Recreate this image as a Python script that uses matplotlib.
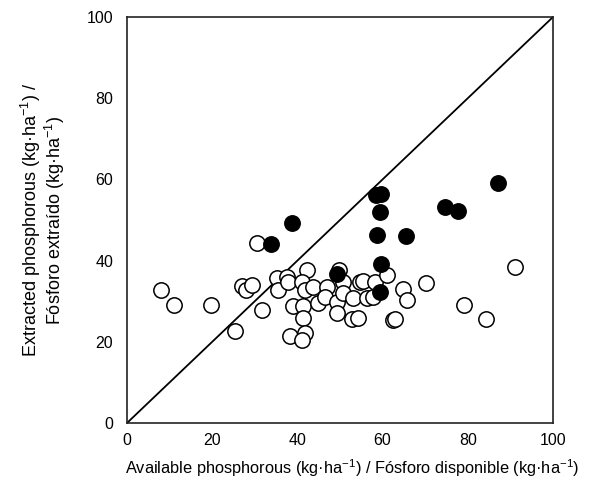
import matplotlib
matplotlib.use("Agg")
import matplotlib.pyplot as plt

plt.rcParams['font.family'] = ['Liberation Sans Narrow', 'Liberation Sans', 'DejaVu Sans']
plt.rcParams['mathtext.fontset'] = 'custom'
plt.rcParams['mathtext.rm'] = 'Liberation Sans'

open_x = [8.0, 11.0, 19.7, 25.4, 26.9, 27.9, 29.3, 31.6, 30.5, 35.3, 37.5, 35.4, 37.7,
          42.2, 41.0, 41.8, 43.7, 46.9, 49.8, 50.7, 54.7, 55.4, 58.2, 61.0, 64.8, 70.2,
          65.7, 91.1, 39.0, 41.3, 44.8, 46.5, 49.2, 50.7, 53.1, 56.3, 57.7, 49.2, 52.7,
          54.2, 62.5, 62.9, 41.3, 41.8, 38.3, 41.0, 79.1, 84.3]
open_y = [32.8, 29.1, 29.1, 22.7, 33.7, 32.8, 34.0, 27.8, 44.3, 35.8, 36.0, 32.8, 34.8,
          37.7, 34.8, 32.8, 33.6, 33.6, 37.7, 34.8, 34.8, 35.0, 34.8, 36.5, 33.0, 34.5,
          30.3, 38.5, 28.7, 28.7, 29.5, 31.1, 29.9, 32.0, 30.8, 30.8, 31.1, 27.1, 25.6,
          25.9, 25.4, 25.6, 25.9, 22.2, 21.4, 20.4, 29.1, 25.6]

filled_x = [58.5, 59.6, 59.4, 58.7, 65.5, 59.6, 59.4, 74.6, 77.7, 87.1, 49.2, 33.8, 38.7]
filled_y = [56.2, 56.4, 52.0, 46.3, 46.1, 39.2, 32.3, 53.3, 52.3, 59.2, 36.8, 44.1, 49.3]

line_x = [0, 100]
line_y = [0, 100]

xticks = [0, 20, 40, 60, 80, 100]
yticks = [0, 20, 40, 60, 80, 100]

fig = plt.figure(figsize=(5.9, 4.87), dpi=100)
ax = fig.add_axes([127/590, 1-423/487, (553-127)/590, (423-17)/487])

ax.plot(line_x, line_y, color='black', lw=1.3, zorder=1)
ax.scatter(open_x, open_y, s=122, facecolor='white', edgecolor='black', linewidths=1.1, zorder=2)
ax.scatter(filled_x, filled_y, s=122, facecolor='black', edgecolor='black', linewidths=1.1, zorder=3)

ax.set_xlim(0, 100)
ax.set_ylim(0, 100)
ax.set_xticks(xticks)
ax.set_yticks(yticks)
ax.tick_params(length=0, labelsize=11.5, colors='black')
ax.tick_params(axis='y', pad=10)
ax.tick_params(axis='x', pad=7)
for s in ax.spines.values():
    s.set_linewidth(1.2)
    s.set_color('#222222')

sup = r'$^{\mathregular{-1}}$'
ax.set_xlabel('Available phosphorous (kg·ha' + sup + ') / Fósforo disponible (kg·ha' + sup + ')',
              fontsize=11.8, labelpad=8)
ax.xaxis.set_label_coords(0.528, -0.085)
ax.set_ylabel('Extracted phosphorous (kg·ha' + sup + ') /\nFósforo extraído (kg·ha' + sup + ')',
              fontsize=13, labelpad=14, linespacing=1.0)

fig.savefig('out.png', dpi=100)
